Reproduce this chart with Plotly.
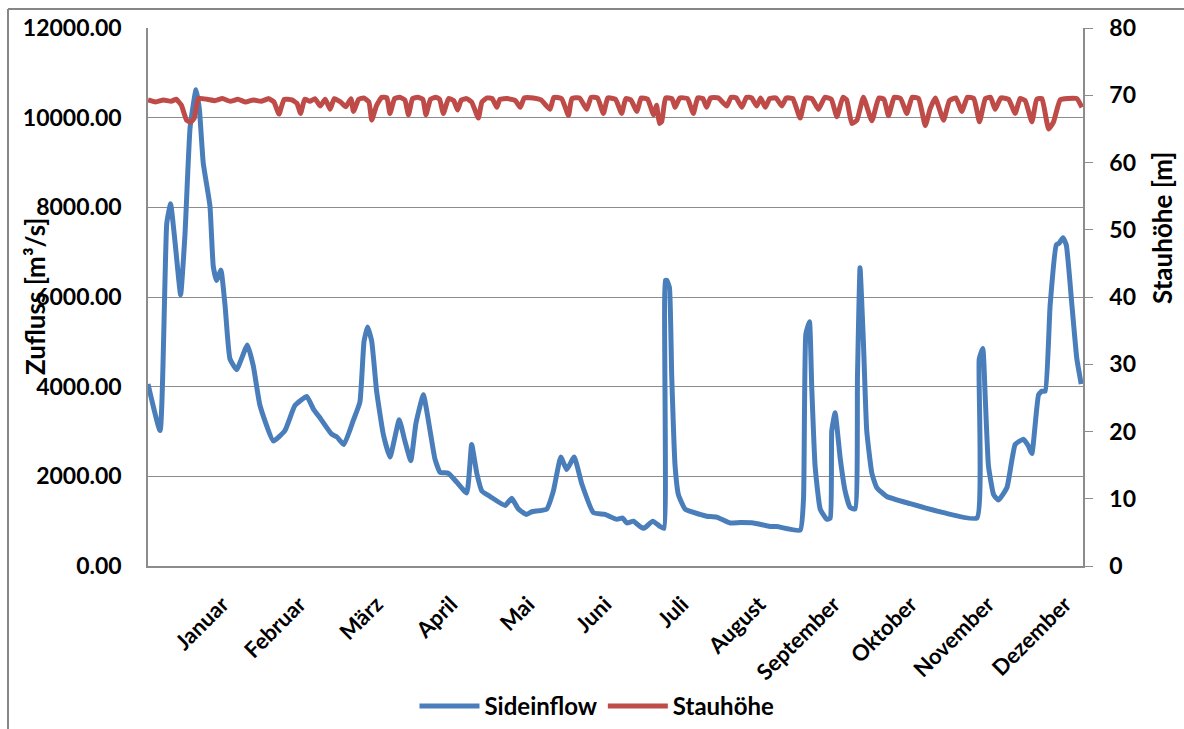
import plotly.graph_objects as go

# ---- data ----
months = ["Januar", "Februar", "März", "April", "Mai", "Juni", "Juli",
          "August", "September", "Oktober", "November", "Dezember"]
month_day = [29, 59, 89, 118, 148, 178, 208, 238, 267, 297, 327, 357]

inflow_day = [0, 4.7, 7.3, 8.8, 10.5, 12.7, 14.4, 16.4, 18.7, 20, 21.5, 24.1, 25.4, 26.7, 28.4,
              30, 31.9, 34.5, 38.7, 41, 43.6, 48.8, 53.3, 57.2, 61.8, 64.4, 67, 71.5, 73.5,
              76.3, 80, 82.5, 84.1, 85.5, 87.1, 89, 91.6, 94.2, 97.8, 100, 102.3, 104.3,
              107.2, 109.8, 111.7, 113.7, 116.9, 120.2, 124.1, 126, 128, 130, 133.2, 139,
              141.6, 144.2, 147.2, 149.4, 155.2, 157.8, 160.7, 163, 165.9, 168.9, 173.4,
              177.9, 182.5, 184.8, 186.4, 189, 191.6, 193.1, 196.5, 199.4, 200.9, 201.4,
              202, 203, 203.9, 205.2, 206.5, 209.1, 214.9, 217.5, 221.4, 226.6, 230.5,
              235.7, 242.2, 244.8, 253.9, 255.2, 256.1, 257.5, 258.4, 259.7, 261.7, 264.3,
              265.6, 266.2, 267.5, 269.5, 271.4, 273.3, 275.3, 276.2, 277.2, 278.5, 279.8,
              281.8, 283.7, 287.6, 296.7, 309.7, 322.7, 323.6, 325, 325.9, 327.2, 329.2,
              331.1, 334.4, 337.6, 340.8, 342.8, 344.1, 346.7, 348, 349.3, 351.2, 353.6,
              354.7, 356.2, 357.5, 359.7, 361.6, 363.3]
inflow = [4060, 3020, 7640, 8080, 7240, 6050, 7400, 9790, 10620, 10190, 8990, 8040, 6690, 6370, 6600,
          5810, 4620, 4380, 4930, 4460, 3580, 2790, 3020, 3580, 3780, 3500, 3300, 2940, 2880,
          2710, 3260, 3660, 5010, 5330, 5010, 3900, 2940, 2430, 3260, 2790, 2350, 3180,
          3820, 3020, 2390, 2090, 2070, 1870, 1630, 2710, 2070, 1670, 1550, 1350,
          1510, 1270, 1150, 1210, 1270, 1670, 2430, 2150, 2430, 1830, 1190,
          1150, 1040, 1070, 960, 1000, 880, 840, 1000, 880, 840, 6370,
          6370, 6210, 4220, 2230, 1590, 1270, 1150, 1110, 1090, 960, 970,
          960, 880, 880, 800, 1510, 5170, 5450, 3980, 2230, 1270, 1040,
          1070, 3020, 3420, 2390, 1670, 1310, 1270, 4220, 6650, 5010, 3020,
          2070, 1750, 1550, 1390, 1190, 1070, 4620, 4850, 3820, 2230, 1590,
          1470, 1750, 2710, 2830, 2670, 2510, 3820, 3900, 3900, 5810, 7160,
          7200, 7320, 7160, 5810, 4620, 4060]

stau_day = [0, 3, 6, 9, 11, 13, 15, 16.5, 18, 19.6, 23, 26, 29, 32, 35, 38, 41, 44, 47, 49, 51,
            53, 56, 58, 59.4, 61, 63, 65, 67, 69, 70.9, 72.5, 75, 77, 79, 80, 82, 84, 86, 87.1,
            89, 91, 93, 94.2, 96, 98, 100, 101.4, 103, 105, 107, 108.2, 110, 112, 113.5, 115,
            117, 119, 120.5, 122, 124, 126, 128.6, 130, 132, 134, 135.8, 137, 140, 143, 144.9,
            146.5, 150, 153, 156.5, 158, 161, 163.7, 165, 168, 170.8, 172.5, 175, 177.3, 179,
            182, 184.4, 186, 188, 190.3, 192, 194.5, 196.8, 198, 199.1, 200, 201.5, 204, 205.2,
            207, 210, 212.3, 214, 216, 217.5, 219, 222, 225.3, 227, 229, 231.2, 233, 235, 237,
            238.5, 240.3, 242, 244.5, 246.7, 248.5, 251, 253.9, 256, 258.5, 261, 263.5, 266,
            268.2, 270.5, 272, 274, 276, 278.5, 281.8, 284.5, 286.5, 288.3, 290.5, 293, 295.4,
            297.5, 300, 302.6, 304.5, 306.5, 309.7, 312, 314.5, 316.8, 319, 321.5, 323.7, 326,
            328, 329.8, 332, 335, 337.6, 339.5, 341.5, 344.1, 346, 348, 350.6, 352.5, 355.1,
            358, 361.6, 363.6]
stauhoehe = [69.3, 69.0, 69.3, 69.1, 69.4, 68.5, 66.3, 66.0, 66.6, 69.5, 69.4, 69.2, 69.5, 69.1, 69.4,
             69.0, 69.3, 69.1, 69.5, 69.0, 67.2, 69.4, 69.3, 68.8, 67.3, 69.4, 69.1, 69.5, 68.4,
             69.4, 67.9, 69.5, 69.0, 68.3, 69.5, 67.6, 69.4, 69.6, 69.0, 66.3, 68.5, 69.7, 69.6,
             67.3, 69.5, 69.7, 69.3, 67.1, 69.5, 69.7, 69.4, 67.1, 69.4, 69.7, 69.4, 67.3, 69.5,
             69.2, 67.8, 69.3, 69.5, 69.0, 66.6, 69.0, 69.6, 69.5, 68.2, 69.4, 69.5, 69.2, 68.2,
             69.6, 69.6, 69.3, 67.9, 69.7, 69.5, 67.0, 69.5, 69.6, 67.9, 69.7, 69.6, 67.3, 69.6,
             69.4, 67.3, 69.5, 69.3, 67.6, 69.6, 69.4, 67.1, 68.5, 65.8, 66.1, 69.6, 69.5, 68.2,
             69.6, 69.5, 67.3, 69.6, 69.5, 68.2, 69.6, 69.6, 68.4, 69.7, 69.6, 68.2, 69.7, 69.6,
             68.4, 69.6, 68.2, 69.5, 69.6, 68.4, 69.6, 69.5, 66.6, 69.6, 69.5, 67.9, 69.7, 69.4,
             66.8, 69.7, 69.3, 65.8, 66.3, 69.7, 66.2, 69.6, 69.4, 66.95, 69.7, 69.5, 67.3,
             69.7, 69.5, 65.5, 68.0, 69.6, 66.3, 69.2, 69.6, 67.6, 69.7, 69.5, 66.05, 69.5,
             69.7, 67.9, 69.6, 69.4, 67.3, 69.5, 69.2, 66.05, 69.4, 69.5, 64.98, 66.0, 69.3,
             69.5, 69.5, 68.2]

# ---- figure ----
W, H = 1184, 729
L, R, T, B = 148, 1083, 28, 566
FONT = "Lato"
GRID = "#8c8c8c"
TICK = dict(family=FONT, size=23, color="black", weight="bold")

fig = go.Figure()
fig.add_trace(go.Scatter(x=inflow_day, y=inflow, name="Sideinflow", mode="lines",
                         line=dict(color="#4A7EBB", width=5, shape="spline", smoothing=0.4)))
fig.add_trace(go.Scatter(x=stau_day, y=stauhoehe, name="Stauhöhe", mode="lines", yaxis="y2",
                         line=dict(color="#BE4B48", width=5, shape="spline", smoothing=0.4)))

fig.update_layout(
    width=W, height=H,
    margin=dict(l=L, r=W - R, t=T, b=H - B, pad=0, autoexpand=False),
    paper_bgcolor="white", plot_bgcolor="white",
    font=dict(family=FONT, size=23, color="black", weight="bold"),
    showlegend=True,
    legend=dict(orientation="h", x=(597 - L) / (R - L), xanchor="center",
                y=(B - 729) / (B - T), yanchor="bottom",
                font=dict(family=FONT, size=24, color="black", weight="bold"),
                itemwidth=60, bgcolor="rgba(0,0,0,0)"),
    xaxis=dict(range=[0, 364], tickvals=month_day, ticktext=months, tickangle=-45,
               showgrid=False, zeroline=False, showline=True, linecolor=GRID, linewidth=1.5,
               ticks="outside", ticklen=15, tickcolor="rgba(0,0,0,0)",
               tickfont=dict(family=FONT, size=22, color="black", weight="bold")),
    yaxis=dict(range=[0, 12000], dtick=2000, tickformat=".2f", showgrid=True,
               gridcolor=GRID, gridwidth=1.3, zeroline=False, showline=True,
               linecolor=GRID, linewidth=1.5, ticks="outside", ticklen=20,
               tickcolor="rgba(0,0,0,0)", tickfont=TICK),
    yaxis2=dict(range=[0, 80], dtick=10, overlaying="y", side="right", showgrid=False,
                zeroline=False, showline=True, linecolor=GRID, linewidth=1.5,
                ticks="outside", ticklen=8, tickcolor=GRID, tickwidth=1.3,
                ticklabelstandoff=12, tickfont=TICK),
    annotations=[
        dict(text="Zufluss [m³/s]", xref="paper", yref="paper",
             x=(35 - L) / (R - L), y=(B - 297) / (B - T), textangle=-90,
             showarrow=False, xanchor="center", yanchor="middle",
             font=dict(family=FONT, size=26, color="black", weight="bold")),
        dict(text="Stauhöhe [m]", xref="paper", yref="paper",
             x=(1162 - L) / (R - L), y=(B - 228) / (B - T), textangle=-90,
             showarrow=False, xanchor="center", yanchor="middle",
             font=dict(family=FONT, size=26, color="black", weight="bold")),
    ],
    shapes=[
        dict(type="line", xref="paper", yref="paper",
             x0=(8 - L) / (R - L), x1=(8 - L) / (R - L),
             y0=(B - 9) / (B - T), y1=(B - 735) / (B - T),
             line=dict(color="#868686", width=2)),
        dict(type="line", xref="paper", yref="paper",
             x0=(8 - L) / (R - L), x1=(1190 - L) / (R - L),
             y0=(B - 9) / (B - T), y1=(B - 9) / (B - T),
             line=dict(color="#868686", width=2)),
    ],
)

fig.write_html("out.html")
